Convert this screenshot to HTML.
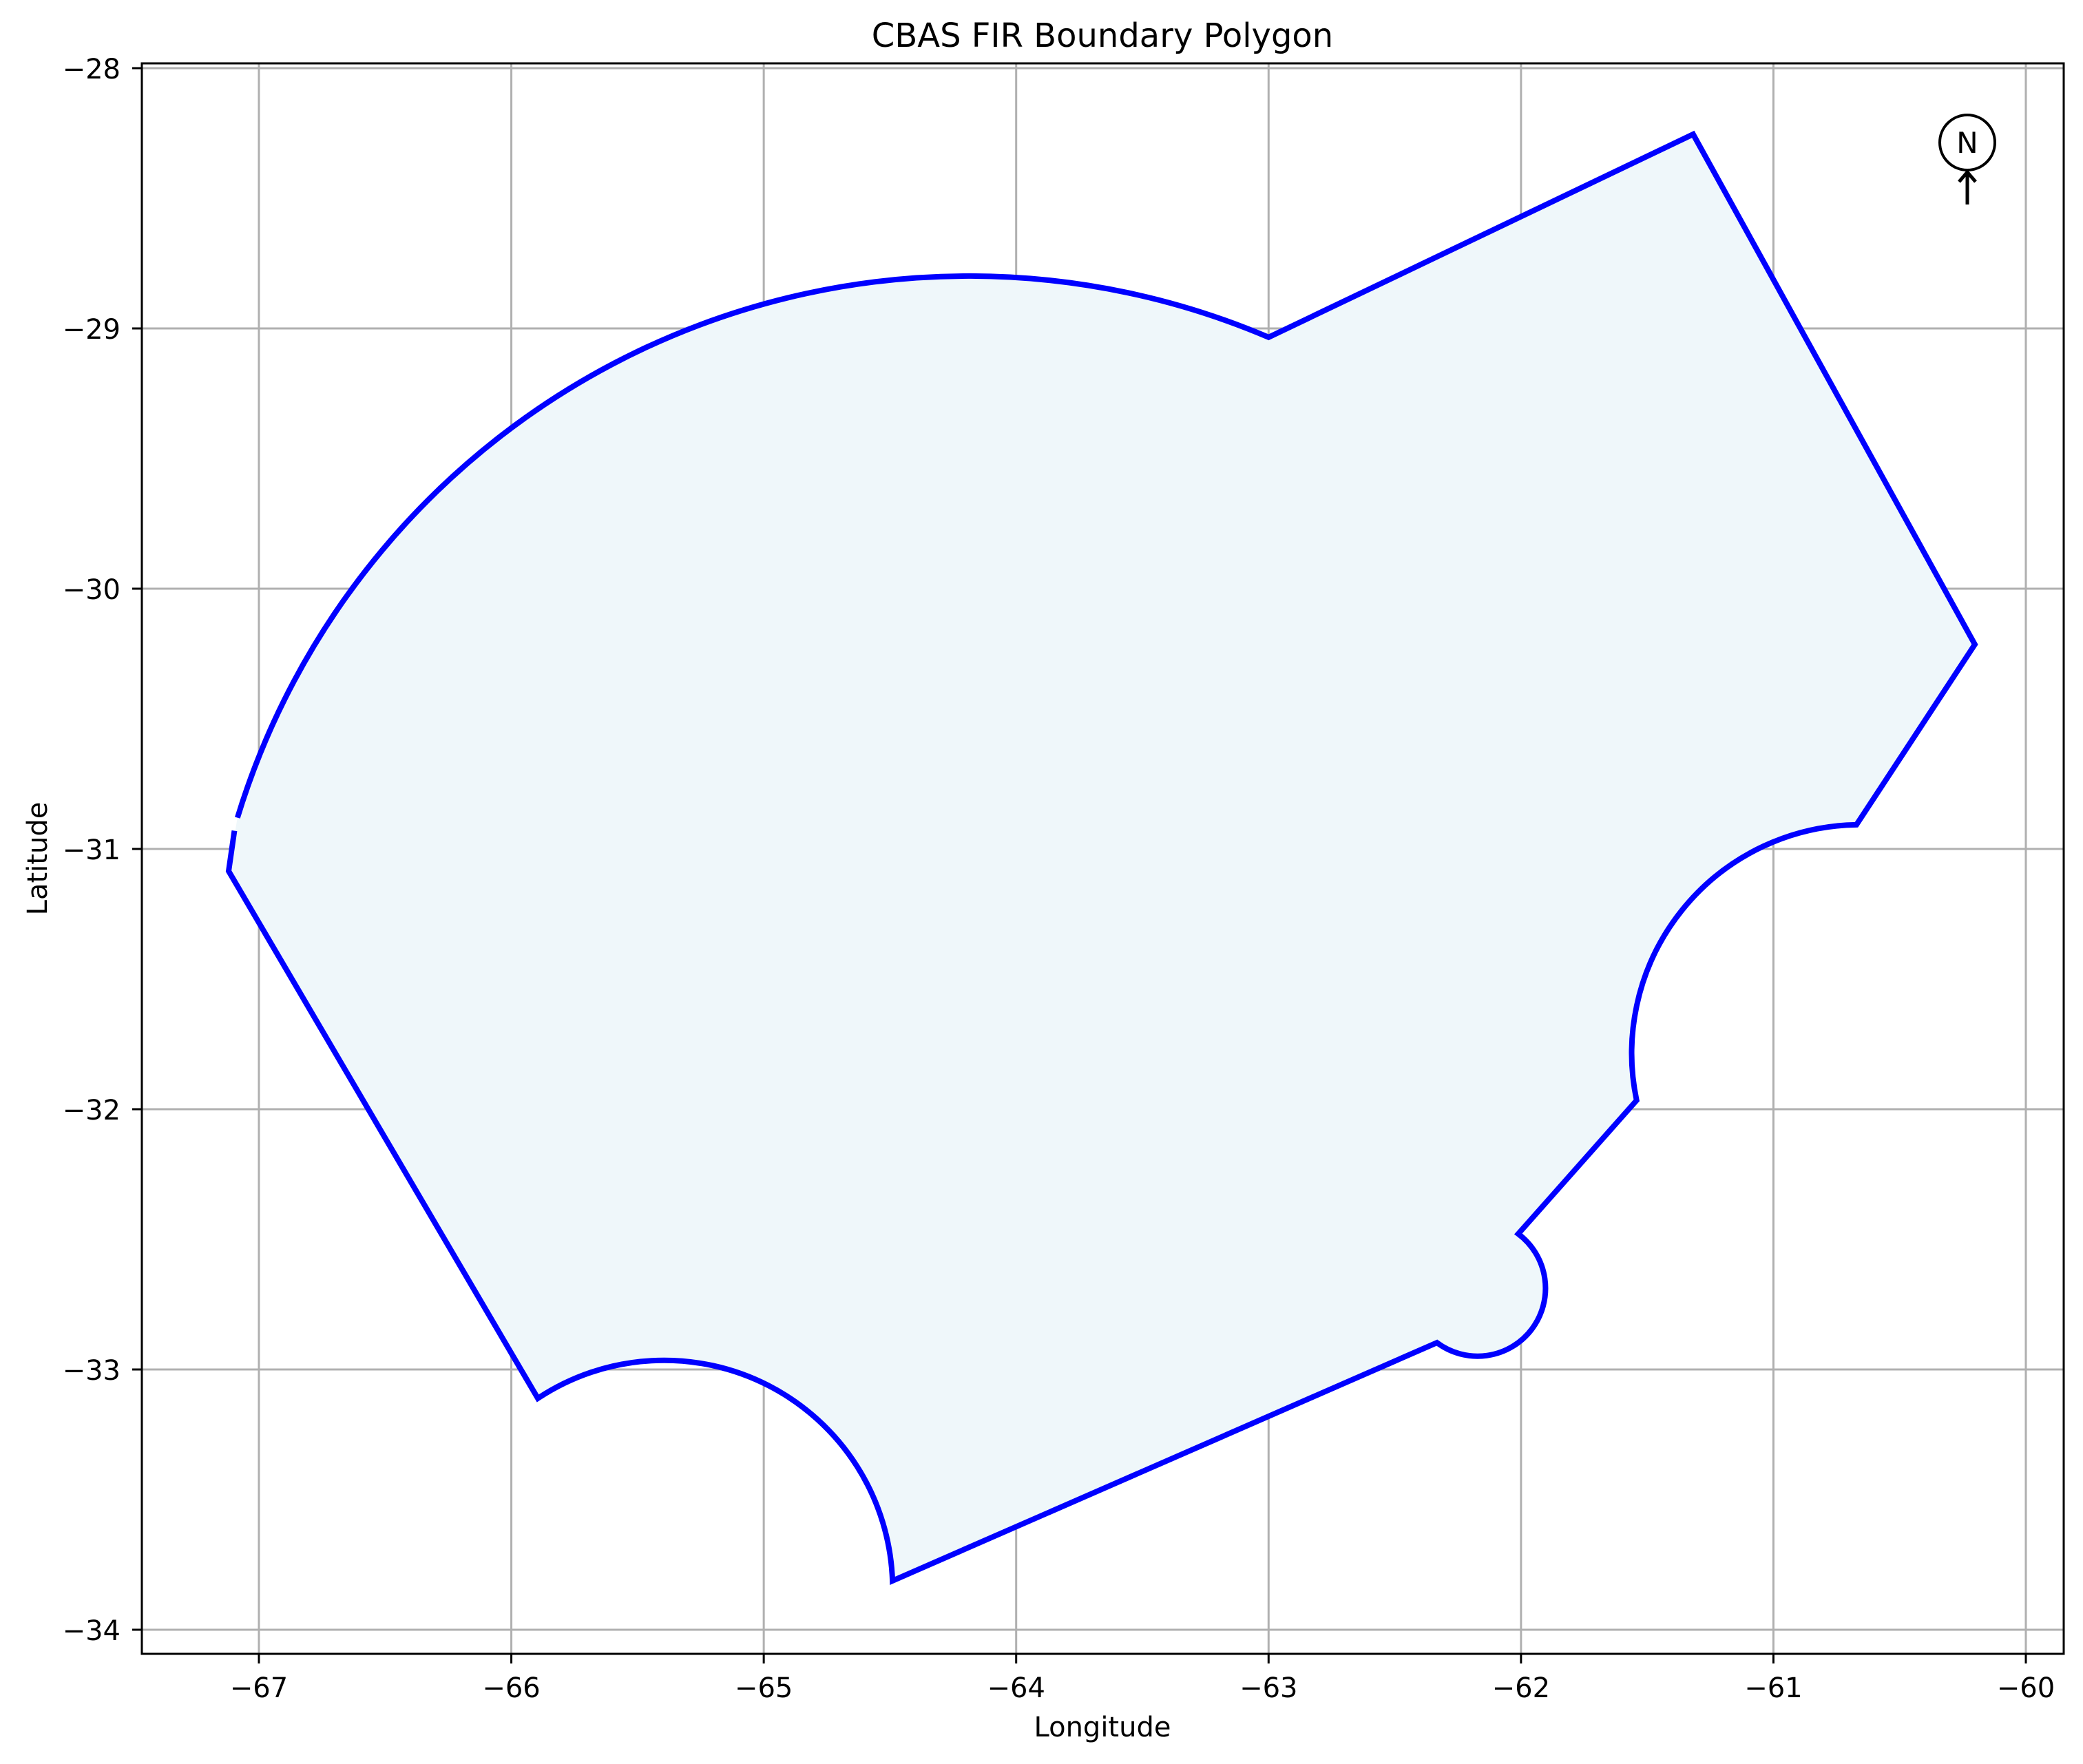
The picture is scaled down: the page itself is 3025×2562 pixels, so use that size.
<!DOCTYPE html>
<html><head><meta charset="utf-8"><style>
html,body{margin:0;padding:0;background:#fff;}
svg{display:block;font-family:"DejaVu Sans","Liberation Sans",sans-serif;}
</style></head><body>
<svg id="chart" width="3025" height="2562" viewBox="0 0 3025 2562" xmlns="http://www.w3.org/2000/svg">
<rect x="0" y="0" width="3025" height="2562" fill="#fff"/>
<g id="grid"></g>
<g id="poly"></g>
<rect x="206" y="92" width="2791" height="2310" fill="none" stroke="#000" stroke-width="3"/>
<g id="ticks"></g>
<text x="1601" y="68" font-size="48" text-anchor="middle">CBAS FIR Boundary Polygon</text>
<text x="1601" y="2522" font-size="40" text-anchor="middle">Longitude</text>
<text x="0" y="0" font-size="40" text-anchor="middle" transform="translate(68,1247) rotate(-90)">Latitude</text>
<g>
<circle cx="2857" cy="207" r="40" fill="none" stroke="#000" stroke-width="4"/>
<text x="2857" y="222" font-size="42" text-anchor="middle">N</text>
<line x1="2857" y1="297" x2="2857" y2="252" stroke="#000" stroke-width="5"/>
<polyline points="2845,264 2857,250 2869,264" fill="none" stroke="#000" stroke-width="5"/>
</g>
</svg>
<script>
const xTicks=[-67,-66,-65,-64,-63,-62,-61,-60];
const yTicks=[-28,-29,-30,-31,-32,-33,-34];
// boundary vertices [lon, lat]
const vertLon=[-67.12,-65.895,-64.49,-62.333,-62.011,-61.542,-60.671,-60.202,-61.318,-63.0,-67.085];
const vertLat=[-31.085,-33.111,-33.812,-32.897,-32.479,-31.966,-30.907,-30.214,-28.254,-29.034,-30.88];
// segment type from vertex i to i+1: 'L' line or arc [radiusDeg, largeArc, sweep]
const segType=['L',[0.878,0,1],'L',[0.25,1,0],'L',[0.878,0,1],'L','L','L',[2.937,0,0]];
const gapLon=-67.097, gapLat=-30.93;

const X=lon=>376+(lon+67)*366.57;
const Y=lat=>99+(-28-lat)*378;
const NS='http://www.w3.org/2000/svg';
const grid=document.getElementById('grid'),ticks=document.getElementById('ticks'),poly=document.getElementById('poly');
function mk(tag,attrs,parent){const e=document.createElementNS(NS,tag);for(const k in attrs)e.setAttribute(k,attrs[k]);parent.appendChild(e);return e;}
xTicks.forEach(v=>{
  const gl=mk('line',{x1:X(v),x2:X(v),y1:92,y2:2402,stroke:'#b0b0b0','stroke-width':3},grid);
  
  
  const t=mk('line',{x1:X(v),x2:X(v),y1:2402,y2:2416,stroke:'#000','stroke-width':3},ticks);
  
  
  const lb=mk('text',{x:X(v),y:2465,'font-size':40,'text-anchor':'middle'},ticks);
  lb.textContent='\u2212'+Math.abs(v);
  
  
});
yTicks.forEach(v=>{
  const gl=mk('line',{x1:206,x2:2997,y1:Y(v),y2:Y(v),stroke:'#b0b0b0','stroke-width':3},grid);
  
  
  const t=mk('line',{x1:192,x2:206,y1:Y(v),y2:Y(v),stroke:'#000','stroke-width':3},ticks);
  
  
  const lb=mk('text',{x:175,y:Y(v)+15,'font-size':40,'text-anchor':'end'},ticks);
  lb.textContent='\u2212'+Math.abs(v);
  
  
});
let d='M'+X(vertLon[0])+','+Y(vertLat[0]);
for(let i=0;i<segType.length;i++){
  const j=i+1;const x=X(vertLon[j]),y=Y(vertLat[j]);const s=segType[i];
  if(s==='L')d+=' L'+x+','+y;
  else{const r=s[0]*378;d+=' A'+r+','+r+' 0 '+s[1]+' '+s[2]+' '+x+','+y;}
}
const fill=mk('path',{d:d+' Z',fill:'#eff7fa',stroke:'none'},poly);


const stroke=mk('path',{d:'M'+X(gapLon)+','+Y(gapLat)+' L'+d.slice(1),fill:'none',stroke:'#0000ff','stroke-width':8,'stroke-linejoin':'miter'},poly);


</script>
</body></html>
